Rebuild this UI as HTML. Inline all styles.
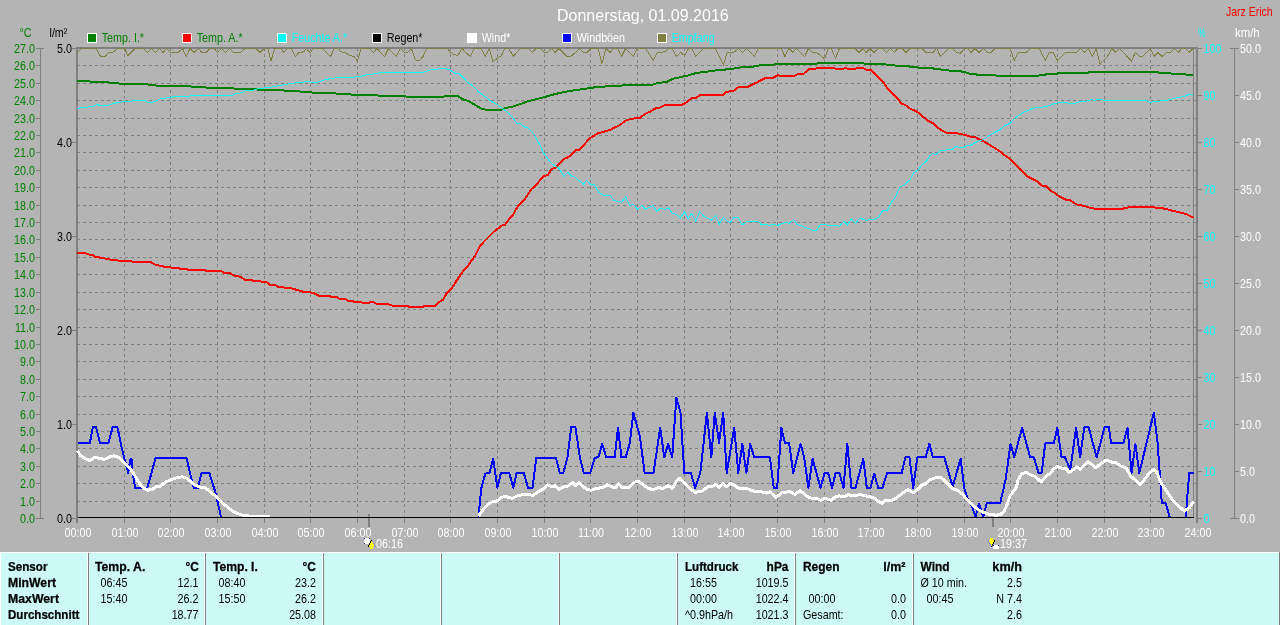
<!DOCTYPE html><html><head><meta charset="utf-8"><title>Wetter</title>
<style>html,body{margin:0;padding:0;background:#b4b4b4;overflow:hidden}svg{display:block}text{font-family:"Liberation Sans",sans-serif;font-size:12px}.b{font-weight:bold;stroke:#000;stroke-width:.25px}.t{font-size:16px}</style>
</head><body>
<div style="will-change:transform;width:1280px;height:625px">
<svg width="1280" height="625" viewBox="0 0 1280 625">
<g stroke="#808080" stroke-width="1" stroke-dasharray="3 3" shape-rendering="crispEdges" fill="none">
<line x1="77" y1="65.5" x2="1196" y2="65.5"/>
<line x1="77" y1="83.5" x2="1196" y2="83.5"/>
<line x1="77" y1="100.5" x2="1196" y2="100.5"/>
<line x1="77" y1="118.5" x2="1196" y2="118.5"/>
<line x1="77" y1="135.5" x2="1196" y2="135.5"/>
<line x1="77" y1="152.5" x2="1196" y2="152.5"/>
<line x1="77" y1="170.5" x2="1196" y2="170.5"/>
<line x1="77" y1="187.5" x2="1196" y2="187.5"/>
<line x1="77" y1="205.5" x2="1196" y2="205.5"/>
<line x1="77" y1="222.5" x2="1196" y2="222.5"/>
<line x1="77" y1="239.5" x2="1196" y2="239.5"/>
<line x1="77" y1="257.5" x2="1196" y2="257.5"/>
<line x1="77" y1="274.5" x2="1196" y2="274.5"/>
<line x1="77" y1="292.5" x2="1196" y2="292.5"/>
<line x1="77" y1="309.5" x2="1196" y2="309.5"/>
<line x1="77" y1="327.5" x2="1196" y2="327.5"/>
<line x1="77" y1="344.5" x2="1196" y2="344.5"/>
<line x1="77" y1="361.5" x2="1196" y2="361.5"/>
<line x1="77" y1="379.5" x2="1196" y2="379.5"/>
<line x1="77" y1="396.5" x2="1196" y2="396.5"/>
<line x1="77" y1="414.5" x2="1196" y2="414.5"/>
<line x1="77" y1="431.5" x2="1196" y2="431.5"/>
<line x1="77" y1="448.5" x2="1196" y2="448.5"/>
<line x1="77" y1="466.5" x2="1196" y2="466.5"/>
<line x1="77" y1="483.5" x2="1196" y2="483.5"/>
<line x1="77" y1="501.5" x2="1196" y2="501.5"/>
<line x1="124.5" y1="48" x2="124.5" y2="523"/>
<line x1="170.5" y1="48" x2="170.5" y2="523"/>
<line x1="217.5" y1="48" x2="217.5" y2="523"/>
<line x1="264.5" y1="48" x2="264.5" y2="523"/>
<line x1="310.5" y1="48" x2="310.5" y2="523"/>
<line x1="357.5" y1="48" x2="357.5" y2="523"/>
<line x1="404.5" y1="48" x2="404.5" y2="523"/>
<line x1="450.5" y1="48" x2="450.5" y2="523"/>
<line x1="497.5" y1="48" x2="497.5" y2="523"/>
<line x1="544.5" y1="48" x2="544.5" y2="523"/>
<line x1="590.5" y1="48" x2="590.5" y2="523"/>
<line x1="637.5" y1="48" x2="637.5" y2="523"/>
<line x1="684.5" y1="48" x2="684.5" y2="523"/>
<line x1="730.5" y1="48" x2="730.5" y2="523"/>
<line x1="777.5" y1="48" x2="777.5" y2="523"/>
<line x1="824.5" y1="48" x2="824.5" y2="523"/>
<line x1="870.5" y1="48" x2="870.5" y2="523"/>
<line x1="917.5" y1="48" x2="917.5" y2="523"/>
<line x1="964.5" y1="48" x2="964.5" y2="523"/>
<line x1="1010.5" y1="48" x2="1010.5" y2="523"/>
<line x1="1057.5" y1="48" x2="1057.5" y2="523"/>
<line x1="1104.5" y1="48" x2="1104.5" y2="523"/>
<line x1="1150.5" y1="48" x2="1150.5" y2="523"/>
</g>
<g fill="#808080" shape-rendering="crispEdges">
<rect x="76" y="47" width="2" height="476"/>
<rect x="76" y="47" width="1122" height="2"/>
<rect x="1193" y="49" width="1" height="469"/>
<rect x="1196" y="47" width="2" height="476"/>
</g>
<polyline points="77.0,52.5 82.0,48.4 96.0,48.4 100.5,56.5 105.0,56.5 109.0,52.0 113.0,52.0 118.0,48.4 124.5,48.4 128.0,55.7 135.0,48.4 143.7,48.4 147.6,52.5 151.5,48.4 155.4,52.5 159.3,48.4 163.2,52.5 166.5,48.4 170.0,52.0 178.5,52.0 182.5,48.4 186.3,56.5 190.0,48.4 194.0,52.5 198.5,48.4 202.0,52.5 206.0,52.5 210.0,48.4 214.0,48.4 217.5,52.5 221.5,48.4 225.5,52.5 229.5,48.4 233.0,52.0 241.0,52.0 245.0,48.4 256.0,48.4 260.0,52.5 264.4,48.4 267.8,48.4 271.0,60.7 274.9,48.4 277.2,48.4 281.2,48.4 283.5,52.2 287.4,48.4 291.3,48.4 295.3,56.5 299.2,52.5 303.9,51.8 306.2,48.4 310.2,52.9 313.3,48.4 322.7,48.4 330.5,56.5 334.5,48.4 338.4,48.4 340.7,51.8 345.4,52.5 350.1,55.7 354.0,56.5 357.5,61.2 361.1,48.4 369.7,48.4 373.6,52.5 376.8,48.4 384.6,56.5 388.5,48.4 396.4,56.5 400.3,48.4 404.2,52.2 408.1,52.2 411.3,48.4 415.2,59.6 419.1,61.2 423.0,56.5 426.9,48.4 447.3,48.4 450.4,52.2 453.9,54.4 457.8,55.7 461.8,48.4 466.5,53.3 470.4,56.5 474.3,48.4 481.3,48.4 485.3,56.5 489.2,48.4 493.1,62.0 497.0,58.5 501.4,55.7 504.9,48.4 508.8,48.4 513.2,56.5 516.6,52.5 520.5,48.4 528.4,48.4 532.3,52.5 536.2,48.4 540.1,48.4 544.0,52.2 548.0,52.2 551.9,48.4 555.0,52.5 558.9,48.4 566.8,56.5 570.7,56.5 575.4,52.5 579.3,48.4 583.2,52.2 587.1,52.5 591.0,48.4 598.1,48.4 602.0,63.5 606.0,48.4 609.9,52.5 613.8,48.4 617.7,48.4 621.6,56.5 625.5,48.4 633.4,56.5 637.3,48.4 645.5,48.4 653.3,60.4 657.2,52.5 665.1,51.8 669.0,48.4 672.1,48.4 676.1,56.5 680.8,52.5 684.7,55.7 688.6,48.4 691.7,48.4 695.6,56.5 703.5,48.4 715.2,48.4 723.4,65.1 727.0,52.9 734.0,52.2 738.7,48.4 742.7,52.5 746.6,48.4 754.4,56.5 758.3,48.4 781.1,48.4 785.0,56.5 788.9,48.4 792.8,52.5 796.7,48.4 804.6,56.5 808.5,48.4 812.4,52.2 816.3,52.2 824.6,59.0 828.1,48.4 831.2,48.4 835.5,58.5 839.4,48.4 855.1,48.4 859.0,52.5 862.9,48.4 866.1,52.5 870.0,48.4 873.9,52.5 878.6,48.4 882.5,48.4 886.4,52.5 890.3,48.4 894.3,52.5 898.2,48.4 902.1,48.4 906.0,52.5 909.9,48.4 921.7,48.4 925.6,52.2 933.4,52.2 936.6,48.4 940.5,56.5 948.3,48.4 952.3,48.4 956.2,52.2 960.1,53.3 964.8,48.4 967.9,48.4 971.1,52.5 975.0,48.4 978.9,52.5 983.6,48.4 987.5,52.2 991.4,52.2 995.4,48.4 1010.3,48.4 1014.2,60.4 1018.1,52.5 1026.5,52.2 1030.4,48.4 1039.0,48.4 1045.3,60.4 1049.2,52.5 1053.1,52.2 1057.5,60.4 1065.6,52.2 1076.6,52.2 1080.5,48.4 1084.5,52.2 1088.4,48.4 1092.3,56.5 1096.2,48.4 1100.1,64.3 1108.0,55.7 1111.9,48.4 1115.8,52.2 1119.7,48.4 1131.5,61.2 1135.4,52.5 1139.3,56.1 1143.2,56.1 1150.3,48.4 1154.2,56.5 1158.1,52.5 1162.0,56.5 1166.7,52.5 1170.7,52.2 1174.6,48.4 1178.5,52.2 1181.6,48.4 1185.5,48.4 1189.5,52.2 1193.1,48.4" fill="none" stroke="#808040" stroke-width="1" stroke-linejoin="round" stroke-linecap="butt" shape-rendering="crispEdges"/>
<polyline points="77.0,81.0 89.0,81.0 91.0,82.0 108.0,82.0 110.0,83.0 118.0,83.0 120.0,84.0 147.0,84.0 149.0,85.0 155.0,85.0 157.0,86.0 190.0,86.0 192.0,87.0 205.0,87.0 207.0,88.0 233.0,88.0 235.0,89.0 256.0,89.0 258.0,90.0 283.0,90.0 285.0,91.0 299.0,91.0 301.0,92.0 311.0,92.0 313.0,93.0 335.0,93.0 337.0,94.0 350.0,94.0 352.0,95.0 377.0,95.0 379.0,96.0 404.0,96.0 406.0,96.6 444.0,96.6 446.0,95.7 457.0,95.7 462.5,99.2 468.8,101.1 475.0,105.0 481.3,108.7 486.0,109.7 501.7,109.7 504.9,108.2 512.7,106.6 520.5,104.0 528.4,101.1 536.2,99.2 544.0,97.2 551.9,94.9 559.7,93.0 567.6,91.3 575.4,90.2 583.2,89.1 591.0,87.8 600.5,86.7 613.0,86.2 622.4,85.5 630.3,85.1 640.0,85.0 652.5,84.7 657.2,83.1 666.6,82.0 672.9,78.7 680.8,77.1 688.6,75.3 696.4,72.9 704.3,72.1 712.1,70.9 720.0,69.8 729.3,69.3 737.2,67.9 743.4,67.0 752.9,66.6 759.1,65.5 765.4,65.1 776.4,64.3 796.7,64.0 815.5,64.0 818.7,63.0 862.9,63.0 865.3,64.3 885.6,64.3 888.0,65.1 894.3,65.1 895.8,65.9 908.4,65.9 910.7,67.0 917.0,67.0 919.3,67.9 932.7,68.2 935.0,69.0 940.5,69.3 942.9,70.1 948.3,70.3 949.9,71.0 960.1,71.0 963.2,72.1 967.9,72.9 969.5,73.7 975.8,74.2 977.3,74.8 994.6,74.8 996.9,76.1 1038.2,76.1 1039.8,74.8 1045.3,74.8 1046.8,73.7 1057.0,73.7 1058.6,72.6 1088.4,72.6 1089.9,71.8 1157.3,71.8 1158.9,72.9 1169.9,72.9 1171.4,73.9 1184.8,73.9 1186.3,74.8 1193.4,74.8" fill="none" stroke="#008000" stroke-width="2" stroke-linejoin="round" stroke-linecap="butt" shape-rendering="crispEdges"/>
<polyline points="77.0,253.0 84.9,253.0 87.2,254.3 93.5,255.1 95.1,257.0 102.9,257.9 107.6,259.3 117.0,260.1 118.6,260.9 131.1,260.9 132.7,261.8 150.7,262.1 155.4,264.8 162.5,266.1 164.0,266.8 170.3,267.1 171.9,267.9 178.2,267.9 179.7,268.7 186.8,269.2 187.6,270.0 204.8,270.0 206.4,271.1 221.3,271.1 223.6,272.6 229.1,272.6 233.8,275.5 240.1,276.7 244.8,279.8 251.8,280.2 253.4,280.9 259.7,281.3 267.1,282.5 270.2,284.9 275.7,285.2 278.0,286.7 283.5,287.2 285.1,288.0 291.3,288.3 296.8,289.9 303.9,291.9 313.3,292.7 318.8,295.8 329.7,296.1 331.3,297.1 337.6,297.4 339.9,299.0 345.4,299.3 348.6,301.0 353.3,301.3 354.8,302.1 361.1,302.1 362.7,302.9 368.9,302.9 370.5,302.1 372.9,302.1 376.8,304.0 387.7,304.0 393.2,306.0 407.3,306.0 408.9,306.8 423.0,306.8 424.6,306.0 434.8,306.0 439.2,302.0 443.1,299.6 446.2,294.2 450.9,289.5 454.9,283.2 461.9,272.7 469.0,264.4 475.2,255.4 479.9,246.3 483.9,241.6 489.3,236.2 494.0,231.5 498.7,227.9 501.9,225.6 505.0,224.8 509.0,219.3 512.9,215.4 516.0,209.2 519.9,203.7 525.4,198.2 528.6,193.5 531.7,188.8 535.6,185.6 539.5,180.9 544.2,176.2 548.2,174.7 551.3,169.2 555.2,167.6 559.1,163.7 563.8,159.0 567.7,157.4 570.9,155.1 575.6,150.4 579.5,149.9 583.4,145.7 587.3,141.0 590.5,137.8 594.2,135.6 598.1,133.3 602.0,132.2 606.7,130.9 609.9,130.1 613.8,127.8 618.5,125.9 622.4,123.1 625.5,120.7 630.3,119.2 634.2,118.4 640.4,117.6 645.5,113.7 651.0,111.3 655.7,108.2 660.4,107.4 665.1,105.0 682.3,104.7 687.0,101.9 691.7,98.3 696.4,97.7 700.3,94.9 723.1,94.9 726.2,92.0 730.1,91.4 734.0,90.5 738.7,87.0 748.2,86.7 752.9,84.2 756.8,82.6 760.7,80.4 765.4,77.9 773.2,77.6 777.9,75.3 782.6,76.1 793.6,76.1 797.5,74.2 803.8,73.7 808.5,69.3 814.8,69.0 817.1,68.0 834.4,68.0 836.0,69.0 842.5,69.0 845.0,68.0 848.8,69.0 855.1,69.0 857.4,68.0 862.9,68.0 866.8,69.8 870.8,70.1 873.1,72.1 877.0,75.7 880.9,80.0 884.1,83.1 886.4,87.0 892.7,93.3 897.4,98.0 901.3,103.5 905.2,105.0 909.9,108.5 916.2,111.3 920.1,114.0 924.0,117.6 928.0,120.7 932.7,123.1 937.4,127.5 941.3,130.1 946.8,132.8 955.4,132.8 960.1,134.0 964.8,134.8 969.5,136.4 975.8,137.5 979.1,139.4 984.6,141.8 990.8,145.7 998.7,150.4 1004.2,155.1 1009.4,158.5 1018.8,167.9 1028.2,176.8 1037.6,181.5 1042.3,185.8 1045.5,185.8 1050.2,190.5 1054.1,192.5 1058.8,196.1 1065.8,199.6 1070.5,200.3 1076.0,204.3 1084.6,206.1 1089.3,207.7 1093.3,208.2 1096.4,209.4 1115.2,209.4 1116.8,208.7 1123.0,208.7 1124.6,207.7 1127.7,207.7 1129.3,206.9 1153.6,206.9 1155.2,207.7 1162.2,207.7 1163.8,208.7 1166.1,209.0 1170.1,210.1 1174.0,211.3 1177.9,211.8 1181.0,212.9 1185.0,213.7 1188.9,215.5 1193.6,217.9" fill="none" stroke="#ff0000" stroke-width="2" stroke-linejoin="round" stroke-linecap="butt" shape-rendering="crispEdges"/>
<polyline points="77.0,109.0 82.0,107.0 85.0,108.0 89.0,106.5 94.0,106.0 97.0,104.5 100.0,105.5 108.0,105.5 113.0,103.5 118.0,102.5 124.0,101.5 132.0,101.0 136.0,100.0 144.0,100.0 147.0,102.0 152.0,102.5 156.0,101.0 160.0,99.0 166.0,98.0 170.0,97.5 175.0,96.5 180.0,96.0 190.0,96.0 193.0,95.5 232.0,95.5 236.0,93.5 240.0,93.0 244.0,91.5 248.0,90.0 254.0,90.0 258.0,88.5 270.0,87.5 277.0,86.0 283.0,85.0 290.0,83.5 295.0,83.0 302.0,82.5 307.0,81.0 311.0,82.0 318.0,82.0 322.0,80.5 326.0,79.5 331.0,78.5 340.0,77.5 345.0,77.0 355.0,77.0 358.0,76.5 362.0,76.0 366.0,75.0 370.0,74.5 376.0,73.5 382.0,72.5 423.0,72.5 427.0,71.0 430.0,70.0 436.0,69.5 440.0,68.5 445.0,68.5 448.0,69.5 450.0,69.8 454.7,73.2 459.4,73.7 463.3,77.6 467.2,82.3 471.2,84.7 475.0,87.8 479.0,92.5 482.9,94.9 486.8,98.0 490.8,101.1 495.5,103.5 500.2,106.6 504.1,109.7 508.8,113.4 512.7,117.6 516.6,123.1 520.5,123.5 524.5,127.0 528.4,128.1 532.3,132.5 534.0,133.9 537.2,140.2 540.3,145.7 543.4,152.7 547.4,158.2 551.3,163.7 556.0,166.4 559.1,168.4 563.8,176.2 567.7,172.3 571.7,176.2 574.8,177.0 580.3,181.7 583.4,184.1 586.6,180.5 590.5,184.1 594.4,184.5 598.3,191.9 603.0,195.0 610.1,195.0 614.0,200.8 618.7,201.3 621.8,202.1 625.7,196.9 629.7,205.2 633.6,204.5 637.4,209.2 641.8,205.2 645.7,209.2 653.2,205.2 656.6,211.4 660.6,208.3 664.5,209.6 668.4,207.7 672.3,213.2 676.2,214.3 680.5,218.2 684.4,211.4 688.3,219.0 691.4,213.5 695.8,221.3 699.7,211.6 703.7,216.1 707.6,218.2 711.5,220.2 715.4,215.4 719.3,224.1 723.3,217.4 727.2,221.3 730.3,222.4 734.2,217.4 738.2,217.4 742.1,225.2 746.8,221.3 758.5,221.3 761.7,225.2 765.6,224.1 769.5,225.5 773.4,224.1 777.3,225.5 785.2,222.4 789.1,223.4 793.8,219.3 796.9,224.5 800.8,225.5 804.8,227.3 808.7,228.4 812.6,230.3 816.5,230.3 820.4,224.5 826.3,224.4 827.8,225.3 837.2,225.3 839.6,226.4 843.5,221.2 847.4,225.1 851.3,218.6 855.3,223.6 859.2,218.6 862.3,218.9 866.2,220.6 870.2,219.3 874.1,219.3 878.8,217.3 882.7,210.4 887.4,210.4 890.5,203.7 895.2,197.4 899.9,187.2 904.6,184.5 910.1,179.8 913.3,173.1 918.0,170.0 922.7,164.2 926.6,161.3 929.7,155.9 932.9,153.5 936.0,154.6 940.7,150.4 945.4,150.1 947.7,149.1 952.4,149.1 956.4,146.5 960.3,147.6 964.2,147.2 968.1,145.2 971.3,145.2 975.2,142.5 979.9,140.7 983.8,139.4 989.3,135.5 994.6,132.5 999.3,130.1 1004.0,126.2 1010.3,123.1 1014.7,118.4 1019.4,114.9 1024.1,112.1 1028.8,110.1 1033.5,108.2 1038.2,107.4 1042.9,107.1 1049.2,105.8 1053.9,103.5 1060.2,102.4 1066.4,102.4 1069.6,103.5 1074.3,103.5 1079.0,101.9 1086.8,101.1 1091.5,99.6 1094.6,100.3 1100.1,99.2 1104.0,100.3 1144.8,100.3 1150.3,102.4 1154.2,101.4 1158.9,101.1 1166.7,100.3 1173.0,98.8 1178.5,97.5 1184.0,96.4 1188.7,94.5 1192.6,94.4" fill="none" stroke="#00ffff" stroke-width="1" stroke-linejoin="round" stroke-linecap="butt" shape-rendering="crispEdges"/>
<polyline points="77.7,443.2 89.8,443.2 92.9,427.2 96.0,426.6 100.1,443.2 108.5,443.2 112.6,427.2 117.4,427.2 122.0,449.0 128.2,473.0 130.3,459.4 132.0,459.4 132.4,470.9 135.1,487.9 147.3,487.9 155.7,457.8 186.4,457.8 193.7,487.9 197.9,487.9 201.4,473.0 209.3,473.0 215.5,492.7 221.1,517.2" fill="none" stroke="#0000ff" stroke-width="2" stroke-linejoin="round" stroke-linecap="butt" shape-rendering="crispEdges"/>
<polyline points="478.5,517.0 481.2,488.6 485.3,473.6 489.5,472.5 493.2,458.8 497.4,487.9 500.9,473.0 509.3,473.0 513.4,487.9 516.5,473.0 523.8,473.0 528.0,487.9 532.5,487.9 536.3,457.8 556.0,457.8 559.8,473.0 563.3,473.0 567.5,457.4 571.2,427.2 575.4,427.2 579.9,457.4 583.7,473.0 590.3,473.0 594.5,458.4 598.6,456.7 602.2,443.9 606.3,457.4 614.7,457.4 618.0,427.8 621.5,457.4 625.7,457.4 629.8,442.8 633.4,412.7 637.1,426.2 640.0,436.6 644.6,473.0 653.5,473.0 660.2,427.8 664.3,457.4 668.1,443.9 672.2,457.4 676.4,397.5 680.5,412.7 684.3,473.0 690.9,473.0 695.1,487.9 700.3,473.0 706.9,412.7 711.3,457.4 714.8,412.7 719.0,442.8 723.2,412.7 726.7,473.0 734.2,427.8 738.3,473.0 742.3,443.9 746.4,473.0 750.2,443.9 754.3,457.4 769.9,457.4 773.7,487.9 777.2,487.9 781.4,427.8 784.9,442.8 789.1,442.8 793.2,473.0 800.5,443.9 804.2,457.4 808.4,487.9 812.6,458.8 820.5,487.9 824.6,473.0 828.1,473.0 832.1,487.9 835.6,473.0 839.4,473.0 843.5,487.9 847.3,443.9 851.4,487.9 855.4,487.9 863.3,458.8 866.8,487.9 870.5,487.9 874.3,473.6 878.2,487.9 882.4,487.9 887.2,473.0 901.7,473.0 905.3,457.4 909.4,457.4 913.2,487.9 917.3,457.4 925.6,457.4 929.4,443.9 932.9,457.4 944.3,457.4 952.7,486.5 960.6,458.8 964.4,488.5 967.9,499.0 973.2,509.6 975.4,517.0 978.9,503.5 983.3,517.0 986.8,503.0 1000.3,502.7 1005.7,479.2 1010.5,443.9 1014.2,457.4 1022.1,427.8 1030.2,457.4 1033.9,457.4 1038.5,473.0 1041.6,473.0 1045.3,443.2 1053.7,443.2 1057.4,427.8 1061.6,457.4 1065.1,457.4 1070.3,469.8 1076.1,427.8 1080.1,457.4 1084.4,427.2 1088.6,427.2 1096.7,457.4 1104.6,427.2 1108.8,427.2 1111.2,443.2 1123.3,443.2 1127.5,427.8 1131.6,473.0 1135.4,443.9 1139.3,473.0 1153.9,412.5 1157.6,442.8 1161.8,502.7 1165.5,502.7 1169.7,517.0" fill="none" stroke="#0000ff" stroke-width="2" stroke-linejoin="round" stroke-linecap="butt" shape-rendering="crispEdges"/>
<polyline points="1185.7,517.0 1189.2,473.0 1194.0,473.0" fill="none" stroke="#0000ff" stroke-width="2" stroke-linejoin="round" stroke-linecap="butt" shape-rendering="crispEdges"/>
<rect x="368" y="514" width="2" height="13" fill="#808080" shape-rendering="crispEdges"/>
<rect x="992" y="517" width="2" height="10" fill="#808080" shape-rendering="crispEdges"/>
<polyline points="77.7,450.7 80.4,455.3 84.6,458.4 89.8,460.5 94.9,457.4 100.1,458.4 104.3,459.4 108.5,457.4 113.7,455.7 118.9,457.4 124.1,462.6 130.3,468.8 134.4,475.0 138.6,482.3 142.8,487.5 148.0,490.2 152.1,489.6 156.3,486.5 160.4,486.1 165.6,481.9 170.8,479.8 177.1,477.7 182.3,476.7 186.4,478.2 190.6,481.3 194.7,484.8 201.0,487.5 205.1,487.5 211.4,492.7 217.6,497.9 223.8,504.1 230.1,509.3 236.3,513.1 242.6,515.2 250.9,516.2 270.0,516.6" fill="none" stroke="#ffffff" stroke-width="3" stroke-linejoin="round" stroke-linecap="butt" shape-rendering="crispEdges"/>
<polyline points="478.5,516.0 483.3,509.3 488.5,504.1 492.6,501.7 496.8,501.0 500.9,497.9 505.1,496.2 508.2,497.3 512.4,498.3 516.5,496.2 521.7,494.8 525.9,494.4 533.2,495.2 538.4,491.7 543.6,489.0 547.7,484.8 551.9,486.9 555.0,485.9 559.1,489.2 563.3,487.1 568.5,485.9 572.7,482.7 575.8,485.9 578.9,482.3 583.1,486.5 587.2,489.6 591.4,490.2 595.5,488.6 602.8,487.5 607.0,484.8 611.1,486.5 615.3,487.9 618.4,484.0 622.6,487.9 628.8,487.9 634.0,482.3 638.1,481.3 644.2,485.4 648.3,488.6 653.5,489.6 658.7,487.5 662.9,488.6 668.1,485.4 672.2,488.6 676.4,481.3 679.5,478.6 683.7,482.3 689.9,488.6 695.1,492.3 702.4,491.0 707.6,486.9 711.7,486.9 715.3,484.4 719.0,487.1 723.2,483.4 726.7,486.9 730.4,483.4 734.6,485.4 739.8,489.0 744.0,488.1 748.1,489.0 753.3,491.0 760.6,491.7 766.8,493.1 769.9,491.7 776.2,497.3 782.4,492.7 789.7,491.7 794.9,494.4 800.1,490.6 805.3,494.8 809.4,497.9 816.7,498.3 820.9,500.4 825.0,498.3 831.3,500.4 835.2,496.9 839.4,495.8 843.5,496.9 847.7,494.8 852.9,495.4 861.2,494.8 867.4,496.2 873.7,497.9 877.8,501.0 882.0,503.5 886.1,500.0 890.3,501.0 896.5,497.9 901.7,493.8 908.0,489.6 913.2,492.7 917.3,489.6 921.5,485.4 924.6,484.4 929.8,479.8 934.0,478.2 940.2,477.1 944.3,480.2 949.5,485.4 952.7,488.6 957.9,490.6 963.1,494.8 968.3,501.0 973.5,506.2 978.6,509.8 983.8,512.5 990.1,514.5 996.3,515.2 1000.5,514.5 1004.0,511.4 1007.5,503.5 1010.2,495.5 1016.3,487.6 1018.1,479.7 1021.6,474.0 1026.0,472.2 1030.4,474.8 1034.8,476.2 1038.1,479.2 1041.2,481.9 1045.3,477.1 1050.5,473.0 1053.7,468.8 1057.4,466.7 1062.0,468.2 1065.1,468.2 1069.3,472.3 1073.4,469.8 1076.5,466.7 1080.1,469.2 1084.8,464.6 1088.0,461.5 1092.1,464.6 1095.9,467.8 1100.4,464.0 1104.6,460.9 1108.8,460.9 1112.9,462.6 1116.0,462.6 1120.2,465.7 1126.4,468.2 1130.6,476.1 1135.8,480.2 1139.9,484.4 1144.1,480.2 1149.3,473.0 1154.1,469.2 1157.6,474.0 1160.7,482.3 1164.9,488.6 1169.0,494.8 1173.2,501.0 1178.4,506.2 1184.6,511.0 1189.8,507.3 1193.5,501.5" fill="none" stroke="#ffffff" stroke-width="3" stroke-linejoin="round" stroke-linecap="butt" shape-rendering="crispEdges"/>
<g fill="#808080" shape-rendering="crispEdges">
<rect x="40" y="48" width="1" height="471"/>
<rect x="36" y="48" width="8" height="1"/>
<rect x="36" y="65" width="4" height="1"/>
<rect x="36" y="83" width="4" height="1"/>
<rect x="36" y="100" width="4" height="1"/>
<rect x="36" y="118" width="4" height="1"/>
<rect x="36" y="135" width="4" height="1"/>
<rect x="36" y="152" width="4" height="1"/>
<rect x="36" y="170" width="4" height="1"/>
<rect x="36" y="187" width="4" height="1"/>
<rect x="36" y="205" width="4" height="1"/>
<rect x="36" y="222" width="4" height="1"/>
<rect x="36" y="239" width="4" height="1"/>
<rect x="36" y="257" width="4" height="1"/>
<rect x="36" y="274" width="4" height="1"/>
<rect x="36" y="292" width="4" height="1"/>
<rect x="36" y="309" width="4" height="1"/>
<rect x="36" y="327" width="4" height="1"/>
<rect x="36" y="344" width="4" height="1"/>
<rect x="36" y="361" width="4" height="1"/>
<rect x="36" y="379" width="4" height="1"/>
<rect x="36" y="396" width="4" height="1"/>
<rect x="36" y="414" width="4" height="1"/>
<rect x="36" y="431" width="4" height="1"/>
<rect x="36" y="448" width="4" height="1"/>
<rect x="36" y="466" width="4" height="1"/>
<rect x="36" y="483" width="4" height="1"/>
<rect x="36" y="501" width="4" height="1"/>
<rect x="36" y="518" width="8" height="1"/>
<rect x="72" y="48" width="4" height="1"/>
<rect x="72" y="142" width="4" height="1"/>
<rect x="72" y="236" width="4" height="1"/>
<rect x="72" y="330" width="4" height="1"/>
<rect x="72" y="424" width="4" height="1"/>
<rect x="72" y="518" width="4" height="1"/>
<rect x="1198" y="48" width="4" height="1"/>
<rect x="1198" y="95" width="4" height="1"/>
<rect x="1198" y="142" width="4" height="1"/>
<rect x="1198" y="189" width="4" height="1"/>
<rect x="1198" y="236" width="4" height="1"/>
<rect x="1198" y="283" width="4" height="1"/>
<rect x="1198" y="330" width="4" height="1"/>
<rect x="1198" y="377" width="4" height="1"/>
<rect x="1198" y="424" width="4" height="1"/>
<rect x="1198" y="471" width="4" height="1"/>
<rect x="1198" y="518" width="4" height="1"/>
<rect x="1234" y="48" width="1" height="471"/>
<rect x="1230" y="48" width="9" height="1"/>
<rect x="1234" y="95" width="5" height="1"/>
<rect x="1234" y="142" width="5" height="1"/>
<rect x="1234" y="189" width="5" height="1"/>
<rect x="1234" y="236" width="5" height="1"/>
<rect x="1234" y="283" width="5" height="1"/>
<rect x="1234" y="330" width="5" height="1"/>
<rect x="1234" y="377" width="5" height="1"/>
<rect x="1234" y="424" width="5" height="1"/>
<rect x="1234" y="471" width="5" height="1"/>
<rect x="1230" y="518" width="9" height="1"/>
</g>
<rect x="124" y="518" width="1" height="5" fill="#808080" shape-rendering="crispEdges"/>
<rect x="170" y="518" width="1" height="5" fill="#808080" shape-rendering="crispEdges"/>
<rect x="217" y="518" width="1" height="5" fill="#808080" shape-rendering="crispEdges"/>
<rect x="264" y="518" width="1" height="5" fill="#808080" shape-rendering="crispEdges"/>
<rect x="310" y="518" width="1" height="5" fill="#808080" shape-rendering="crispEdges"/>
<rect x="357" y="518" width="1" height="5" fill="#808080" shape-rendering="crispEdges"/>
<rect x="404" y="518" width="1" height="5" fill="#808080" shape-rendering="crispEdges"/>
<rect x="450" y="518" width="1" height="5" fill="#808080" shape-rendering="crispEdges"/>
<rect x="497" y="518" width="1" height="5" fill="#808080" shape-rendering="crispEdges"/>
<rect x="544" y="518" width="1" height="5" fill="#808080" shape-rendering="crispEdges"/>
<rect x="590" y="518" width="1" height="5" fill="#808080" shape-rendering="crispEdges"/>
<rect x="637" y="518" width="1" height="5" fill="#808080" shape-rendering="crispEdges"/>
<rect x="684" y="518" width="1" height="5" fill="#808080" shape-rendering="crispEdges"/>
<rect x="730" y="518" width="1" height="5" fill="#808080" shape-rendering="crispEdges"/>
<rect x="777" y="518" width="1" height="5" fill="#808080" shape-rendering="crispEdges"/>
<rect x="824" y="518" width="1" height="5" fill="#808080" shape-rendering="crispEdges"/>
<rect x="870" y="518" width="1" height="5" fill="#808080" shape-rendering="crispEdges"/>
<rect x="917" y="518" width="1" height="5" fill="#808080" shape-rendering="crispEdges"/>
<rect x="964" y="518" width="1" height="5" fill="#808080" shape-rendering="crispEdges"/>
<rect x="1010" y="518" width="1" height="5" fill="#808080" shape-rendering="crispEdges"/>
<rect x="1057" y="518" width="1" height="5" fill="#808080" shape-rendering="crispEdges"/>
<rect x="1104" y="518" width="1" height="5" fill="#808080" shape-rendering="crispEdges"/>
<rect x="1150" y="518" width="1" height="5" fill="#808080" shape-rendering="crispEdges"/>
<rect x="78" y="517" width="1116" height="1" fill="#000" shape-rendering="crispEdges"/>
<text transform="translate(35 53) scale(0.895 1)" fill="#008000" text-anchor="end">27.0</text>
<text transform="translate(35 70) scale(0.895 1)" fill="#008000" text-anchor="end">26.0</text>
<text transform="translate(35 88) scale(0.895 1)" fill="#008000" text-anchor="end">25.0</text>
<text transform="translate(35 105) scale(0.895 1)" fill="#008000" text-anchor="end">24.0</text>
<text transform="translate(35 123) scale(0.895 1)" fill="#008000" text-anchor="end">23.0</text>
<text transform="translate(35 140) scale(0.895 1)" fill="#008000" text-anchor="end">22.0</text>
<text transform="translate(35 157) scale(0.895 1)" fill="#008000" text-anchor="end">21.0</text>
<text transform="translate(35 175) scale(0.895 1)" fill="#008000" text-anchor="end">20.0</text>
<text transform="translate(35 192) scale(0.895 1)" fill="#008000" text-anchor="end">19.0</text>
<text transform="translate(35 210) scale(0.895 1)" fill="#008000" text-anchor="end">18.0</text>
<text transform="translate(35 227) scale(0.895 1)" fill="#008000" text-anchor="end">17.0</text>
<text transform="translate(35 244) scale(0.895 1)" fill="#008000" text-anchor="end">16.0</text>
<text transform="translate(35 262) scale(0.895 1)" fill="#008000" text-anchor="end">15.0</text>
<text transform="translate(35 279) scale(0.895 1)" fill="#008000" text-anchor="end">14.0</text>
<text transform="translate(35 297) scale(0.895 1)" fill="#008000" text-anchor="end">13.0</text>
<text transform="translate(35 314) scale(0.895 1)" fill="#008000" text-anchor="end">12.0</text>
<text transform="translate(35 332) scale(0.895 1)" fill="#008000" text-anchor="end">11.0</text>
<text transform="translate(35 349) scale(0.895 1)" fill="#008000" text-anchor="end">10.0</text>
<text transform="translate(35 366) scale(0.895 1)" fill="#008000" text-anchor="end">9.0</text>
<text transform="translate(35 384) scale(0.895 1)" fill="#008000" text-anchor="end">8.0</text>
<text transform="translate(35 401) scale(0.895 1)" fill="#008000" text-anchor="end">7.0</text>
<text transform="translate(35 419) scale(0.895 1)" fill="#008000" text-anchor="end">6.0</text>
<text transform="translate(35 436) scale(0.895 1)" fill="#008000" text-anchor="end">5.0</text>
<text transform="translate(35 453) scale(0.895 1)" fill="#008000" text-anchor="end">4.0</text>
<text transform="translate(35 471) scale(0.895 1)" fill="#008000" text-anchor="end">3.0</text>
<text transform="translate(35 488) scale(0.895 1)" fill="#008000" text-anchor="end">2.0</text>
<text transform="translate(35 506) scale(0.895 1)" fill="#008000" text-anchor="end">1.0</text>
<text transform="translate(35 523) scale(0.895 1)" fill="#008000" text-anchor="end">0.0</text>
<text transform="translate(72 53) scale(0.895 1)" fill="#000" text-anchor="end">5.0</text>
<text transform="translate(72 147) scale(0.895 1)" fill="#000" text-anchor="end">4.0</text>
<text transform="translate(72 241) scale(0.895 1)" fill="#000" text-anchor="end">3.0</text>
<text transform="translate(72 335) scale(0.895 1)" fill="#000" text-anchor="end">2.0</text>
<text transform="translate(72 429) scale(0.895 1)" fill="#000" text-anchor="end">1.0</text>
<text transform="translate(72 523) scale(0.895 1)" fill="#000" text-anchor="end">0.0</text>
<text transform="translate(1203.5 53) scale(0.895 1)" fill="#00ffff">100</text>
<text transform="translate(1203.5 100) scale(0.895 1)" fill="#00ffff">90</text>
<text transform="translate(1203.5 147) scale(0.895 1)" fill="#00ffff">80</text>
<text transform="translate(1203.5 194) scale(0.895 1)" fill="#00ffff">70</text>
<text transform="translate(1203.5 241) scale(0.895 1)" fill="#00ffff">60</text>
<text transform="translate(1203.5 288) scale(0.895 1)" fill="#00ffff">50</text>
<text transform="translate(1203.5 335) scale(0.895 1)" fill="#00ffff">40</text>
<text transform="translate(1203.5 382) scale(0.895 1)" fill="#00ffff">30</text>
<text transform="translate(1203.5 429) scale(0.895 1)" fill="#00ffff">20</text>
<text transform="translate(1203.5 476) scale(0.895 1)" fill="#00ffff">10</text>
<text transform="translate(1203.5 523) scale(0.895 1)" fill="#00ffff">0</text>
<text transform="translate(1240 53) scale(0.895 1)" fill="#fff">50.0</text>
<text transform="translate(1240 100) scale(0.895 1)" fill="#fff">45.0</text>
<text transform="translate(1240 147) scale(0.895 1)" fill="#fff">40.0</text>
<text transform="translate(1240 194) scale(0.895 1)" fill="#fff">35.0</text>
<text transform="translate(1240 241) scale(0.895 1)" fill="#fff">30.0</text>
<text transform="translate(1240 288) scale(0.895 1)" fill="#fff">25.0</text>
<text transform="translate(1240 335) scale(0.895 1)" fill="#fff">20.0</text>
<text transform="translate(1240 382) scale(0.895 1)" fill="#fff">15.0</text>
<text transform="translate(1240 429) scale(0.895 1)" fill="#fff">10.0</text>
<text transform="translate(1240 476) scale(0.895 1)" fill="#fff">5.0</text>
<text transform="translate(1240 523) scale(0.895 1)" fill="#fff">0.0</text>
<text transform="translate(19.5 37.4) scale(0.895 1)" fill="#008000">°C</text>
<text transform="translate(49.5 37.4) scale(0.895 1)" fill="#000">l/m²</text>
<text transform="translate(1198 37) scale(0.72 1)" fill="#00ffff">%</text>
<text transform="translate(1235 37) scale(0.95 1)" fill="#fff">km/h</text>
<text transform="translate(1226 16) scale(0.875 1)" fill="#ff0000">Jarz Erich</text>
<text class="t" x="557" y="21" fill="#fff">Donnerstag, 01.09.2016</text>
<text transform="translate(78 537) scale(0.895 1)" fill="#fff" text-anchor="middle">00:00</text>
<text transform="translate(125 537) scale(0.895 1)" fill="#fff" text-anchor="middle">01:00</text>
<text transform="translate(171 537) scale(0.895 1)" fill="#fff" text-anchor="middle">02:00</text>
<text transform="translate(218 537) scale(0.895 1)" fill="#fff" text-anchor="middle">03:00</text>
<text transform="translate(265 537) scale(0.895 1)" fill="#fff" text-anchor="middle">04:00</text>
<text transform="translate(311 537) scale(0.895 1)" fill="#fff" text-anchor="middle">05:00</text>
<text transform="translate(358 537) scale(0.895 1)" fill="#fff" text-anchor="middle">06:00</text>
<text transform="translate(405 537) scale(0.895 1)" fill="#fff" text-anchor="middle">07:00</text>
<text transform="translate(451 537) scale(0.895 1)" fill="#fff" text-anchor="middle">08:00</text>
<text transform="translate(498 537) scale(0.895 1)" fill="#fff" text-anchor="middle">09:00</text>
<text transform="translate(545 537) scale(0.895 1)" fill="#fff" text-anchor="middle">10:00</text>
<text transform="translate(591 537) scale(0.895 1)" fill="#fff" text-anchor="middle">11:00</text>
<text transform="translate(638 537) scale(0.895 1)" fill="#fff" text-anchor="middle">12:00</text>
<text transform="translate(685 537) scale(0.895 1)" fill="#fff" text-anchor="middle">13:00</text>
<text transform="translate(731 537) scale(0.895 1)" fill="#fff" text-anchor="middle">14:00</text>
<text transform="translate(778 537) scale(0.895 1)" fill="#fff" text-anchor="middle">15:00</text>
<text transform="translate(825 537) scale(0.895 1)" fill="#fff" text-anchor="middle">16:00</text>
<text transform="translate(871 537) scale(0.895 1)" fill="#fff" text-anchor="middle">17:00</text>
<text transform="translate(918 537) scale(0.895 1)" fill="#fff" text-anchor="middle">18:00</text>
<text transform="translate(965 537) scale(0.895 1)" fill="#fff" text-anchor="middle">19:00</text>
<text transform="translate(1011 537) scale(0.895 1)" fill="#fff" text-anchor="middle">20:00</text>
<text transform="translate(1058 537) scale(0.895 1)" fill="#fff" text-anchor="middle">21:00</text>
<text transform="translate(1105 537) scale(0.895 1)" fill="#fff" text-anchor="middle">22:00</text>
<text transform="translate(1151 537) scale(0.895 1)" fill="#fff" text-anchor="middle">23:00</text>
<text transform="translate(1198 537) scale(0.895 1)" fill="#fff" text-anchor="middle">24:00</text>
<text transform="translate(376 548) scale(0.895 1)" fill="#fff">06:16</text>
<text transform="translate(1000 548) scale(0.895 1)" fill="#fff">19:37</text>
<g shape-rendering="crispEdges">
<rect x="364" y="538" width="6" height="6" fill="#fff"/>
<rect x="364" y="538" width="1" height="1" fill="#202090"/>
<rect x="369" y="538" width="1" height="1" fill="#202090"/>
<rect x="364" y="543" width="1" height="1" fill="#202090"/>
<rect x="369" y="543" width="1" height="1" fill="#202090"/>
<rect x="371" y="540" width="1" height="1" fill="#000"/>
<rect x="370" y="541" width="1" height="2" fill="#000"/>
<rect x="371" y="541" width="1" height="1" fill="#ffff00"/>
<rect x="372" y="541" width="1" height="1" fill="#8080e0"/>
<rect x="371" y="542" width="2" height="1" fill="#ffff00"/>
<rect x="369" y="543" width="1" height="2" fill="#000"/>
<rect x="370" y="543" width="3" height="1" fill="#ffff00"/>
<rect x="373" y="543" width="1" height="1" fill="#8080e0"/>
<rect x="370" y="544" width="4" height="1" fill="#ffff00"/>
<rect x="368" y="545" width="1" height="2" fill="#000"/>
<rect x="369" y="545" width="5" height="2" fill="#ffff00"/>
<rect x="374" y="545" width="1" height="2" fill="#8080e0"/>
<rect x="370" y="547" width="3" height="2" fill="#ffff00"/>
<rect x="990" y="538" width="3" height="2" fill="#ffff00"/>
<rect x="988" y="540" width="1" height="2" fill="#8080e0"/>
<rect x="989" y="540" width="5" height="2" fill="#ffff00"/>
<rect x="994" y="540" width="1" height="2" fill="#000"/>
<rect x="989" y="542" width="1" height="2" fill="#8080e0"/>
<rect x="990" y="542" width="3" height="2" fill="#ffff00"/>
<rect x="993" y="542" width="1" height="2" fill="#000"/>
<rect x="990" y="544" width="1" height="2" fill="#8080e0"/>
<rect x="991" y="544" width="1" height="2" fill="#ffff00"/>
<rect x="992" y="544" width="1" height="2" fill="#000"/>
<rect x="991" y="546" width="1" height="1" fill="#000"/>
<rect x="994" y="545" width="4" height="1" fill="#fff"/>
<rect x="993" y="546" width="6" height="3" fill="#fff"/>
<rect x="993" y="545" width="1" height="1" fill="#202090"/>
<rect x="998" y="545" width="1" height="1" fill="#202090"/>
<rect x="992" y="545" width="1" height="1" fill="#202090"/>
</g>
<rect x="87" y="33" width="10" height="10" fill="#fff" shape-rendering="crispEdges"/>
<rect x="88" y="34" width="8" height="8" fill="#008000" shape-rendering="crispEdges"/>
<text transform="translate(101.7 42.4) scale(0.895 1)" fill="#008000">Temp. I.*</text>
<rect x="182" y="33" width="10" height="10" fill="#fff" shape-rendering="crispEdges"/>
<rect x="183" y="34" width="8" height="8" fill="#ff0000" shape-rendering="crispEdges"/>
<text transform="translate(196.7 42.4) scale(0.895 1)" fill="#008000">Temp. A.*</text>
<rect x="277" y="33" width="10" height="10" fill="#fff" shape-rendering="crispEdges"/>
<rect x="278" y="34" width="8" height="8" fill="#00ffff" shape-rendering="crispEdges"/>
<text transform="translate(291.7 42.4) scale(0.895 1)" fill="#00ffff">Feuchte A.*</text>
<rect x="372" y="33" width="10" height="10" fill="#fff" shape-rendering="crispEdges"/>
<rect x="373" y="34" width="8" height="8" fill="#000000" shape-rendering="crispEdges"/>
<text transform="translate(386.7 42.4) scale(0.895 1)" fill="#000">Regen*</text>
<rect x="467" y="33" width="10" height="10" fill="#fff" shape-rendering="crispEdges"/>
<rect x="468" y="34" width="8" height="8" fill="#ffffff" shape-rendering="crispEdges"/>
<text transform="translate(481.7 42.4) scale(0.895 1)" fill="#fff">Wind*</text>
<rect x="562" y="33" width="10" height="10" fill="#fff" shape-rendering="crispEdges"/>
<rect x="563" y="34" width="8" height="8" fill="#0000ff" shape-rendering="crispEdges"/>
<text transform="translate(576.7 42.4) scale(0.895 1)" fill="#fff">Windböen</text>
<rect x="657" y="33" width="10" height="10" fill="#fff" shape-rendering="crispEdges"/>
<rect x="658" y="34" width="8" height="8" fill="#808040" shape-rendering="crispEdges"/>
<text transform="translate(671.7 42.4) scale(0.895 1)" fill="#00ffff">Empfang</text>
<rect x="0" y="552" width="1280" height="73" fill="#cdfaf7"/>
<rect x="0" y="552" width="1280" height="1" fill="#fff"/>
<rect x="0" y="552" width="1" height="73" fill="#fff"/>
<rect x="1279" y="552" width="1" height="73" fill="#808080"/>
<rect x="88" y="553" width="1" height="72" fill="#808080" shape-rendering="crispEdges"/>
<rect x="87" y="552" width="1" height="73" fill="#fff" shape-rendering="crispEdges"/>
<rect x="205" y="553" width="1" height="72" fill="#808080" shape-rendering="crispEdges"/>
<rect x="204" y="552" width="1" height="73" fill="#fff" shape-rendering="crispEdges"/>
<rect x="323" y="553" width="1" height="72" fill="#808080" shape-rendering="crispEdges"/>
<rect x="322" y="552" width="1" height="73" fill="#fff" shape-rendering="crispEdges"/>
<rect x="441" y="553" width="1" height="72" fill="#808080" shape-rendering="crispEdges"/>
<rect x="440" y="552" width="1" height="73" fill="#fff" shape-rendering="crispEdges"/>
<rect x="559" y="553" width="1" height="72" fill="#808080" shape-rendering="crispEdges"/>
<rect x="558" y="552" width="1" height="73" fill="#fff" shape-rendering="crispEdges"/>
<rect x="677" y="553" width="1" height="72" fill="#808080" shape-rendering="crispEdges"/>
<rect x="676" y="552" width="1" height="73" fill="#fff" shape-rendering="crispEdges"/>
<rect x="795" y="553" width="1" height="72" fill="#808080" shape-rendering="crispEdges"/>
<rect x="794" y="552" width="1" height="73" fill="#fff" shape-rendering="crispEdges"/>
<rect x="913" y="553" width="1" height="72" fill="#808080" shape-rendering="crispEdges"/>
<rect x="912" y="552" width="1" height="73" fill="#fff" shape-rendering="crispEdges"/>
<g fill="#000">
<text transform="translate(8 571) scale(0.97 1)" class="b">Sensor</text>
<text transform="translate(8 587) scale(1.02 1)" class="b">MinWert</text>
<text transform="translate(8 603) scale(1.025 1)" class="b">MaxWert</text>
<text transform="translate(8 619) scale(0.965 1)" class="b">Durchschnitt</text>
<text transform="translate(95 571) scale(1.02 1)" class="b">Temp. A.</text>
<text transform="translate(199 571) scale(0.995 1)" text-anchor="end" class="b">°C</text>
<text transform="translate(100.5 587) scale(0.895 1)">06:45</text>
<text transform="translate(198.5 587) scale(0.895 1)" text-anchor="end">12.1</text>
<text transform="translate(100.5 603) scale(0.895 1)">15:40</text>
<text transform="translate(198.5 603) scale(0.895 1)" text-anchor="end">26.2</text>
<text transform="translate(198.5 619) scale(0.895 1)" text-anchor="end">18.77</text>
<text transform="translate(213 571) scale(1.01 1)" class="b">Temp. I.</text>
<text transform="translate(316 571) scale(0.995 1)" text-anchor="end" class="b">°C</text>
<text transform="translate(218.5 587) scale(0.895 1)">08:40</text>
<text transform="translate(316 587) scale(0.895 1)" text-anchor="end">23.2</text>
<text transform="translate(218.5 603) scale(0.895 1)">15:50</text>
<text transform="translate(316 603) scale(0.895 1)" text-anchor="end">26.2</text>
<text transform="translate(316 619) scale(0.895 1)" text-anchor="end">25.08</text>
<text transform="translate(685 571) scale(0.965 1)" class="b">Luftdruck</text>
<text transform="translate(788.5 571) scale(0.995 1)" text-anchor="end" class="b">hPa</text>
<text transform="translate(690 587) scale(0.895 1)">16:55</text>
<text transform="translate(788.5 587) scale(0.895 1)" text-anchor="end">1019.5</text>
<text transform="translate(690 603) scale(0.895 1)">00:00</text>
<text transform="translate(788.5 603) scale(0.895 1)" text-anchor="end">1022.4</text>
<text transform="translate(685 619) scale(0.895 1)">^0.9hPa/h</text>
<text transform="translate(788.5 619) scale(0.895 1)" text-anchor="end">1021.3</text>
<text transform="translate(803 571) scale(0.995 1)" class="b">Regen</text>
<text transform="translate(905.5 571) scale(1.04 1)" text-anchor="end" class="b">l/m²</text>
<text transform="translate(808.5 603) scale(0.895 1)">00:00</text>
<text transform="translate(906 603) scale(0.895 1)" text-anchor="end">0.0</text>
<text transform="translate(803 619) scale(0.895 1)">Gesamt:</text>
<text transform="translate(906 619) scale(0.895 1)" text-anchor="end">0.0</text>
<text transform="translate(920.5 571) scale(0.995 1)" class="b">Wind</text>
<text transform="translate(1022 571) scale(1.06 1)" text-anchor="end" class="b">km/h</text>
<text transform="translate(920.5 587) scale(0.895 1)">Ø 10 min.</text>
<text transform="translate(1022 587) scale(0.895 1)" text-anchor="end">2.5</text>
<text transform="translate(926.5 603) scale(0.895 1)">00:45</text>
<text transform="translate(1022 603) scale(0.895 1)" text-anchor="end">N 7.4</text>
<text transform="translate(1022 619) scale(0.895 1)" text-anchor="end">2.6</text>
</g>
</svg></div></body></html>
